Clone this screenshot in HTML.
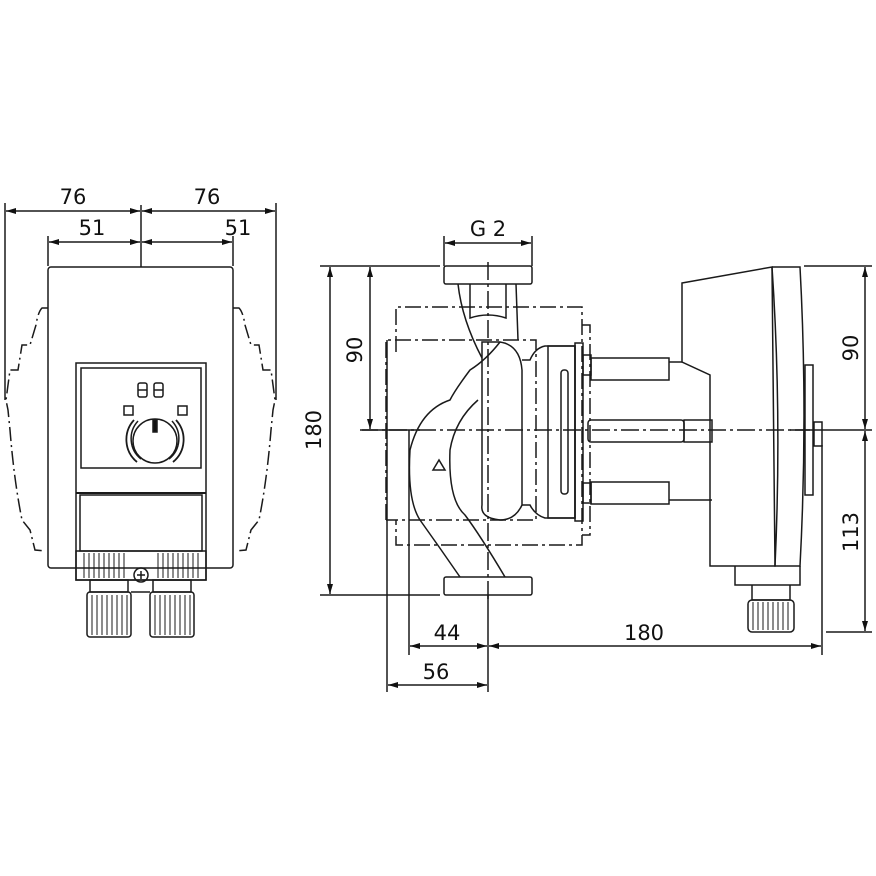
<!DOCTYPE html>
<html><head><meta charset="utf-8"><style>html,body{margin:0;padding:0;background:#fff}svg{display:block}</style></head><body>
<svg width="876" height="876" viewBox="0 0 876 876" xmlns="http://www.w3.org/2000/svg" font-family="'DejaVu Sans','Liberation Sans',sans-serif">
<defs>
<marker id="a" viewBox="0 0 10 6" refX="10" refY="3" markerWidth="11" markerHeight="6" orient="auto-start-reverse" markerUnits="userSpaceOnUse"><path d="M0,0L10,3L0,6z" fill="#111"/></marker>
</defs>
<g stroke="#1a1a1a" stroke-width="1.5" fill="none">
<line x1="5" y1="203" x2="5" y2="400"/><line x1="276" y1="203" x2="276" y2="400"/>
<line x1="141" y1="205" x2="141" y2="267"/>
<line x1="48" y1="236" x2="48" y2="266"/><line x1="233" y1="236" x2="233" y2="266"/>
<line x1="6" y1="211" x2="140" y2="211" marker-start="url(#a)" marker-end="url(#a)"/>
<line x1="142" y1="211" x2="275" y2="211" marker-start="url(#a)" marker-end="url(#a)"/>
<line x1="49" y1="242" x2="140" y2="242" marker-start="url(#a)" marker-end="url(#a)"/>
<line x1="142" y1="242" x2="232" y2="242" marker-start="url(#a)" marker-end="url(#a)"/>
<rect x="48" y="267" width="185" height="301" rx="3"/>
<path stroke-dasharray="14,4,2,4" d="M48,308 L42,308 Q38,312 36,325 L30,345 L22,345 L18,370 L10,370 L6,400 L8,410 L10,430 Q14,480 22,520 L30,530 L35,550 L45,551"/>
<path stroke-dasharray="14,4,2,4" d="M233,308 L239,308 Q243,312 245,325 L251,345 L259,345 L263,370 L271,370 L275,400 L273,410 L271,430 Q267,480 259,520 L251,530 L246,550 L236,551"/>
<rect x="76" y="363" width="130" height="217"/>
<rect x="81" y="368" width="120" height="100"/>
<line x1="76" y1="493" x2="206" y2="493" stroke-width="2"/>
<rect x="80" y="495" width="122" height="56"/>
<rect x="76" y="551" width="130" height="29"/>
<path stroke-width="1" d="M84,553v25M89,553v25M94,553v25M99,553v25M104,553v25M109,553v25M114,553v25M119,553v25M124,553v25M158,553v25M163,553v25M168,553v25M173,553v25M178,553v25M183,553v25M188,553v25M193,553v25M198,553v25"/>
<circle cx="141" cy="575" r="7"/><path d="M137,575h8M141,571v8"/>
<rect x="138" y="383" width="9" height="14" rx="2"/><line x1="138" y1="390" x2="147" y2="390"/>
<rect x="154" y="383" width="9" height="14" rx="2"/><line x1="154" y1="390" x2="163" y2="390"/>
<rect x="124" y="406" width="9" height="9"/><rect x="178" y="406" width="9" height="9"/>
<circle cx="155" cy="441" r="22"/>
<path stroke-width="1.8" d="M134,420 A29,29 0 0 0 137,462 M176,420 A29,29 0 0 1 173,462"/>
<path d="M138,421 A26,26 0 0 0 141,459 M172,421 A26,26 0 0 1 169,459"/>
<rect x="153" y="420" width="4" height="12" fill="#111"/>
<rect x="90" y="580" width="38" height="12"/><rect x="87" y="592" width="44" height="45" rx="3"/>
<rect x="153" y="580" width="38" height="12"/><rect x="150" y="592" width="44" height="45" rx="3"/>
<path stroke-width="1" d="M92,595v40M97,595v40M102,595v40M107,595v40M112,595v40M117,595v40M122,595v40M127,595v40M155,595v40M160,595v40M165,595v40M170,595v40M175,595v40M180,595v40M185,595v40M190,595v40"/>
<line x1="131" y1="592" x2="150" y2="592"/>

<line x1="444" y1="236" x2="444" y2="266"/><line x1="532" y1="236" x2="532" y2="266"/>
<line x1="445" y1="243" x2="531" y2="243" marker-start="url(#a)" marker-end="url(#a)"/>
<line x1="320" y1="266" x2="440" y2="266"/><line x1="320" y1="595" x2="440" y2="595"/>
<line x1="362" y1="430" x2="420" y2="430"/>
<line x1="330" y1="267" x2="330" y2="594" marker-start="url(#a)" marker-end="url(#a)"/>
<line x1="370" y1="267" x2="370" y2="429" marker-start="url(#a)" marker-end="url(#a)"/>
<line x1="387" y1="340" x2="387" y2="692"/><line x1="409" y1="430" x2="409" y2="655"/>
<line x1="488" y1="595" x2="488" y2="692"/>
<line x1="410" y1="646" x2="487" y2="646" marker-start="url(#a)" marker-end="url(#a)"/>
<line x1="489" y1="646" x2="821" y2="646" marker-start="url(#a)" marker-end="url(#a)"/>
<line x1="388" y1="685" x2="487" y2="685" marker-start="url(#a)" marker-end="url(#a)"/>
<line x1="822" y1="445" x2="822" y2="655"/>
<line x1="804" y1="266" x2="872" y2="266"/><line x1="826" y1="632" x2="872" y2="632"/>
<line x1="790" y1="430" x2="872" y2="430"/>
<line x1="865" y1="267" x2="865" y2="429" marker-start="url(#a)" marker-end="url(#a)"/>
<line x1="865" y1="431" x2="865" y2="631" marker-start="url(#a)" marker-end="url(#a)"/>
<line x1="488" y1="262" x2="488" y2="600" stroke-dasharray="18,4,3,4"/>
<line x1="360" y1="430" x2="810" y2="430" stroke-dasharray="18,4,3,4"/>
<path stroke-dasharray="16,4,3,4" d="M396,352 V307 H582 V545 H396 V520 M386,520 V340 H536 V520 H386 M582,325 H590 V535 H582"/>
<rect x="444" y="266" width="88" height="18" rx="2"/>
<rect x="444" y="577" width="88" height="18" rx="2"/>
<path d="M458,284 Q462,320 482,358 M516,284 L518,340 M470,284 V318 Q488,312 506,318 V284"/>
<path d="M482,342 H500 Q520,345 522,370 V505 Q515,520 500,520 Q480,518 482,505 Z"/>
<path d="M500,342 Q486,360 470,370 Q455,390 450,400 Q420,410 410,450 Q407,500 420,520 Q440,548 460,577 M478,400 Q455,420 450,450 Q448,500 465,515 Q480,535 505,577"/>
<path d="M433,470 l6,-10 l6,10z"/>
<path d="M522,360 H530 Q535,348 545,346 H575 V518 H545 Q535,515 530,505 H522"/>
<rect x="548" y="346" width="27" height="172"/>
<rect x="561" y="370" width="7" height="124" rx="3"/>
<rect x="575" y="343" width="8" height="178"/>
<rect x="583" y="355" width="8" height="20"/><rect x="591" y="358" width="78" height="22"/>
<rect x="583" y="483" width="8" height="20"/><rect x="591" y="482" width="78" height="22"/>
<rect x="588" y="420" width="96" height="22" rx="3"/><rect x="684" y="420" width="28" height="22"/>
<path d="M669,362 H682 M669,500 H712"/>
<path d="M682,283 L772,267 L775,566 L710,566 V375 L682,362 Z"/>
<path d="M772,267 L800,267 Q808,415 800,566 L775,566 Q782,415 772,267"/>
<rect x="805" y="365" width="8" height="130"/>
<rect x="814" y="422" width="8" height="24"/>
<path d="M735,566 V585 H800 V566 M752,585 V600 H790 V585"/>
<rect x="748" y="600" width="46" height="32" rx="4"/>
<path stroke-width="1" d="M753,602v28M758,602v28M763,602v28M768,602v28M773,602v28M778,602v28M783,602v28M788,602v28"/>
</g>
<g fill="#111" font-size="21" text-anchor="middle">
<text x="73" y="204">76</text><text x="207" y="204">76</text>
<text x="92" y="235">51</text><text x="238" y="235">51</text>
<text x="488" y="236">G 2</text>
<text x="447" y="640">44</text><text x="644" y="640">180</text><text x="436" y="679">56</text>
<text transform="translate(321,430) rotate(-90)">180</text>
<text transform="translate(362,350) rotate(-90)">90</text>
<text transform="translate(858,348) rotate(-90)">90</text>
<text transform="translate(858,532) rotate(-90)">113</text>
</g>
</svg>
</body></html>
